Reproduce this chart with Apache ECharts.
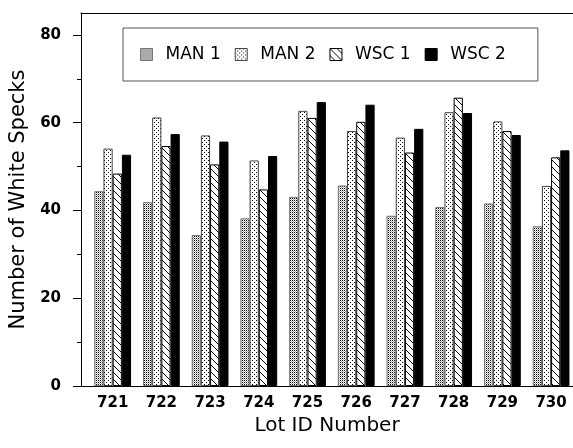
<!DOCTYPE html>
<html>
<head>
<meta charset="utf-8">
<script src="https://cdn.jsdelivr.net/npm/echarts@6/dist/echarts.min.js"></script>
<style>
  html, body { margin: 0; padding: 0; background: #fff; }
  #chart { width: 573px; height: 448px; }
</style>
</head>
<body>
<div id="chart"></div>
<script>
  // lot ids along the x axis
  let lots = [721, 722, 723, 724, 725, 726, 727, 728, 729, 730];
  let man1 = [44.4, 41.9, 34.4, 38.2, 43.1, 45.7, 38.8, 40.8, 41.6, 36.4];
  let man2 = [54.1, 61.2, 57.1, 51.4, 62.7, 58.1, 56.6, 62.4, 60.3, 45.6];
  let wsc1 = [48.4, 54.7, 50.5, 44.8, 61.1, 60.2, 53.2, 65.7, 58.1, 52.1];
  let wsc2 = [52.7, 57.4, 55.7, 52.4, 64.7, 64.1, 58.6, 62.2, 57.2, 53.7];
  let yLabels = [0, 20, 40, 60, 80];
  let yMinor = [10, 30, 50, 70];

  // small canvas tiles for the fill patterns
  function tile(size, draw) {
    let c = document.createElement("canvas");
    c.width = size;
    c.height = size;
    let ctx = c.getContext("2d");
    ctx.fillStyle = "#fff";
    ctx.fillRect(0, 0, size, size);
    draw(ctx);
    return { image: c, repeat: "repeat" };
  }
  let denseDots = tile(2, function (ctx) {
    ctx.fillStyle = "#000";
    ctx.fillRect(0, 0, 1, 1);
    ctx.fillStyle = "#aaa";
    ctx.fillRect(1, 1, 1, 1);
  });
  let sparseDots = tile(4, function (ctx) {
    ctx.fillStyle = "#000";
    ctx.fillRect(0, 0, 1, 1);
    ctx.fillRect(2, 2, 1, 1);
  });
  let hatch = tile(7, function (ctx) {
    ctx.fillStyle = "#000";
    for (let i = 0; i < 7; i++) {
      ctx.fillRect(i, i, 1, 1);
    }
  });

  function pairs(vals) {
    return lots.map(function (l, i) {
      return [l, vals[i]];
    });
  }

  let chart = echarts.init(document.getElementById("chart"));
  let font = "DejaVu Sans";
  let xMin = 720.35;
  let xMax = 730.45;

  let barBase = {
    type: "bar",
    barWidth: 9.2,
    barGap: "0%",
    animation: false,
  };

  let option = {
    backgroundColor: "#fff",
    textStyle: { fontFamily: font, color: "#000" },
    legend: {
      left: 123,
      top: 28,
      padding: [18, 32, 18, 17],
      borderColor: "#555",
      borderWidth: 1,
      icon: "rect",
      itemWidth: 12,
      itemHeight: 12,
      itemGap: 14,
      itemStyle: { borderWidth: 1 },
      textStyle: {
        fontFamily: font,
        fontSize: 17,
        color: "#000",
        padding: [0, 0, 0, 8],
      },
      data: ["MAN 1", "MAN 2", "WSC 1", "WSC 2"],
    },
    grid: {
      left: 78,
      right: 0,
      top: 13,
      bottom: 62,
    },
    xAxis: [
      {
        type: "value",
        min: xMin,
        max: xMax,
        name: "Lot ID Number",
        nameLocation: "middle",
        nameGap: 21,
        nameTextStyle: { fontFamily: font, fontSize: 20, color: "#000" },
        axisLine: { lineStyle: { color: "#000", width: 1 } },
        axisTick: { show: false },
        splitLine: { show: false },
        axisLabel: {
          customValues: lots,
          margin: 10,
          fontFamily: font,
          fontSize: 15,
          fontWeight: "bold",
          color: "#000",
          formatter: function (v) {
            return String(v);
          },
        },
      },
      {
        type: "value",
        position: "top",
        min: xMin,
        max: xMax,
        axisLine: { show: true, onZero: false, lineStyle: { color: "#000", width: 1 } },
        axisTick: { show: false },
        axisLabel: { show: false },
        splitLine: { show: false },
      },
    ],
    yAxis: [
      {
        type: "value",
        min: 0,
        max: 85,
        name: "Number of White Specks",
        nameLocation: "middle",
        nameGap: 52,
        nameTextStyle: { fontFamily: font, fontSize: 21, color: "#000" },
        axisLine: { show: true, lineStyle: { color: "#000", width: 1 } },
        axisTick: { show: true, length: 8, customValues: yLabels, lineStyle: { color: "#000" } },
        splitLine: { show: false },
        axisLabel: {
          customValues: yLabels,
          margin: 20,
          fontFamily: font,
          fontSize: 15,
          fontWeight: "bold",
          color: "#000",
        },
      },
      {
        type: "value",
        min: 0,
        max: 85,
        position: "left",
        axisLine: { show: false },
        axisTick: { show: true, length: 4, customValues: yMinor, lineStyle: { color: "#000" } },
        axisLabel: { show: false },
        splitLine: { show: false },
      },
    ],
    series: [
      Object.assign({}, barBase, {
        name: "MAN 1",
        itemStyle: { color: denseDots, borderColor: "#777", borderWidth: 1 },
        data: pairs(man1),
      }),
      Object.assign({}, barBase, {
        name: "MAN 2",
        itemStyle: { color: sparseDots, borderColor: "#444", borderWidth: 1 },
        data: pairs(man2),
      }),
      Object.assign({}, barBase, {
        name: "WSC 1",
        itemStyle: { color: hatch, borderColor: "#000", borderWidth: 1 },
        data: pairs(wsc1),
      }),
      Object.assign({}, barBase, {
        name: "WSC 2",
        itemStyle: { color: "#000", borderColor: "#000", borderWidth: 1 },
        data: pairs(wsc2),
      }),
    ],
  };
  chart.setOption(option);
</script>
</body>
</html>
